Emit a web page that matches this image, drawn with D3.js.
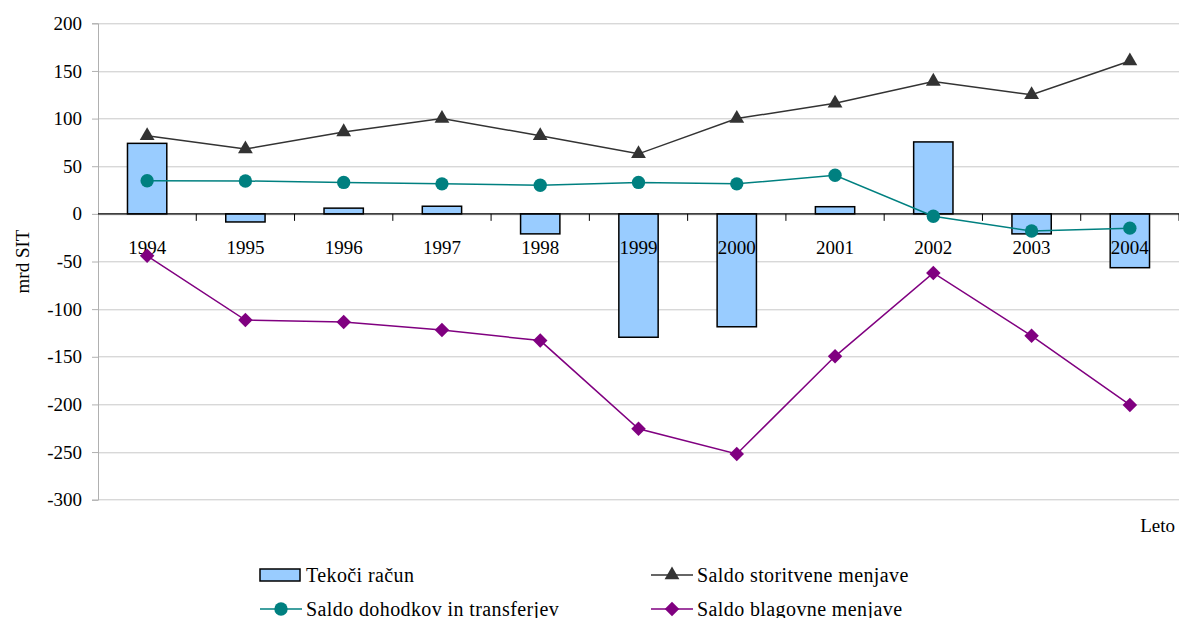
<!DOCTYPE html>
<html>
<head>
<meta charset="utf-8">
<script src="https://cdn.jsdelivr.net/npm/d3@7"></script>
<style>
  body { margin: 0; background: #fff; }
  svg text { font-family: "Liberation Serif", "Times New Roman", "DejaVu Serif", serif !important; }
</style>
</head>
<body>
<div id="viz"></div>
<script>
const years = ['1994', '1995', '1996', '1997', '1998', '1999', '2000', '2001', '2002', '2003', '2004'],
    tekociRacun = [74, -8.5, 6, 8, -21, -129.5, -118.5, 7.5, 75.5, -21, -56.5],
    saldoStoritev = [82, 68, 86, 100, 82, 63, 100, 116, 139, 125, 160.5],
    saldoDohodkov = [34.8, 34.5, 33, 31.5, 30, 33, 31.5, 40.5, -2.5, -18, -15],
    saldoBlaga = [-44, -111.5, -113.5, -122, -133, -225.5, -252, -149.5, -62, -128, -200.5],
    yTicks = [200, 150, 100, 50, 0, -50, -100, -150, -200, -250, -300];

const W = 1179, H = 618,
    margin = {top: 23.3, right: 0, bottom: 118.3, left: 98},
    width = W - margin.left - margin.right,
    height = H - margin.top - margin.bottom,
    serif = '"Liberation Serif", "Times New Roman", serif';

const svg = d3.select('#viz').append('svg')
    .attr('width', W)
    .attr('height', H)
    .attr('font-family', serif);

const g = svg.append('g')
    .attr('transform', `translate(${margin.left},${margin.top})`);

const x = d3.scaleBand()
    .domain(years)
    .range([0, width]);

const y = d3.scaleLinear()
    .domain([-300, 200])
    .range([height, 0]);

const cx = d => x(d) + x.bandwidth() / 2;

// gridlines
g.append('g')
    .selectAll('line')
    .data(yTicks)
    .enter().append('line')
    .attr('x1', 0)
    .attr('x2', width)
    .attr('y1', d => Math.round(y(d)) + 0.5)
    .attr('y2', d => Math.round(y(d)) + 0.5)
    .attr('stroke', '#c8c8c8')
    .attr('stroke-width', 1);

// y axis
const yAxis = g.append('g')
    .call(d3.axisLeft(y).tickValues(yTicks).tickSize(6).tickPadding(10).tickFormat(d3.format('d')))
    .attr('font-family', serif)
    .attr('font-size', 19);
yAxis.select('.domain').attr('stroke', '#b0b0b0');
yAxis.selectAll('.tick line').attr('stroke', '#b0b0b0');
yAxis.selectAll('.tick text')
    .attr('fill', '#000')
    .text(d => d < 0 ? '-' + Math.abs(d) : d);

// bars
const barW = x.bandwidth() * 0.4;
g.append('g')
    .selectAll('rect')
    .data(tekociRacun)
    .enter().append('rect')
    .attr('x', (d, i) => cx(years[i]) - barW / 2)
    .attr('y', d => y(Math.max(0, d)))
    .attr('width', barW)
    .attr('height', d => Math.abs(y(d) - y(0)))
    .attr('fill', '#99ccff')
    .attr('stroke', '#000')
    .attr('stroke-width', 1.5);

// zero axis line with ticks
const zeroY = y(0);
g.append('line')
    .attr('x1', 0).attr('x2', width)
    .attr('y1', zeroY).attr('y2', zeroY)
    .attr('stroke', '#000').attr('stroke-width', 1.3);
g.append('g')
    .selectAll('line')
    .data(years)
    .enter().append('line')
    .attr('x1', (d, i) => x.step() * (i + 1))
    .attr('x2', (d, i) => x.step() * (i + 1))
    .attr('y1', zeroY)
    .attr('y2', zeroY + 7)
    .attr('stroke', '#000');

// year labels
g.append('g')
    .selectAll('text')
    .data(years)
    .enter().append('text')
    .attr('x', d => cx(d))
    .attr('y', zeroY + 40)
    .attr('text-anchor', 'middle')
    .attr('font-size', 19)
    .text(d => d);

const line = d3.line()
    .x((d, i) => cx(years[i]))
    .y(d => y(d));

const series = [
    {name: 'Saldo storitvene menjave', data: saldoStoritev, color: '#333333', marker: d3.symbolTriangle, size: 95, rot: 0},
    {name: 'Saldo dohodkov in transferjev', data: saldoDohodkov, color: '#008080', marker: d3.symbolCircle, size: 140, rot: 0},
    {name: 'Saldo blagovne menjave', data: saldoBlaga, color: '#800080', marker: d3.symbolSquare, size: 105, rot: 45}
];

series.forEach(s => {
    g.append('path')
        .datum(s.data)
        .attr('d', line)
        .attr('fill', 'none')
        .attr('stroke', s.color)
        .attr('stroke-width', 1.5);
    g.append('g')
        .selectAll('path')
        .data(s.data)
        .enter().append('path')
        .attr('transform', (d, i) => `translate(${cx(years[i])},${y(d)}) rotate(${s.rot})`)
        .attr('d', d3.symbol().type(s.marker).size(s.size))
        .attr('fill', s.color);
});

// axis titles
svg.append('text')
    .attr('transform', `translate(29,${margin.top + height / 2}) rotate(-90)`)
    .attr('text-anchor', 'middle')
    .attr('font-size', 19)
    .text('mrd SIT');

svg.append('text')
    .attr('x', 1175)
    .attr('y', 532)
    .attr('text-anchor', 'end')
    .attr('font-size', 19)
    .text('Leto');

// legend
const legend = svg.append('g');
const legendItems = [
    {name: 'Tekoči račun', type: 'bar', x: 260, y: 575},
    {name: series[0].name, type: 'line', s: series[0], x: 651, y: 575},
    {name: series[1].name, type: 'line', s: series[1], x: 260, y: 609},
    {name: series[2].name, type: 'line', s: series[2], x: 651, y: 609}
];

legendItems.forEach(it => {
    const lg = legend.append('g').attr('transform', `translate(${it.x},${it.y})`);
    if (it.type === 'bar') {
        lg.append('rect')
            .attr('x', 0).attr('y', -6)
            .attr('width', 40).attr('height', 12)
            .attr('fill', '#99ccff').attr('stroke', '#000').attr('stroke-width', 1.5);
    } else {
        lg.append('line')
            .attr('x1', 0).attr('x2', 42)
            .attr('y1', 0).attr('y2', 0)
            .attr('stroke', it.s.color).attr('stroke-width', 1.5);
        lg.append('path')
            .attr('transform', `translate(21,0) rotate(${it.s.rot})`)
            .attr('d', d3.symbol().type(it.s.marker).size(it.s.size))
            .attr('fill', it.s.color);
    }
    lg.append('text')
        .attr('x', 46)
        .attr('y', 7)
        .attr('font-size', 20)
        .attr('letter-spacing', 0.4)
        .text(it.name);
});
</script>
</body>
</html>
